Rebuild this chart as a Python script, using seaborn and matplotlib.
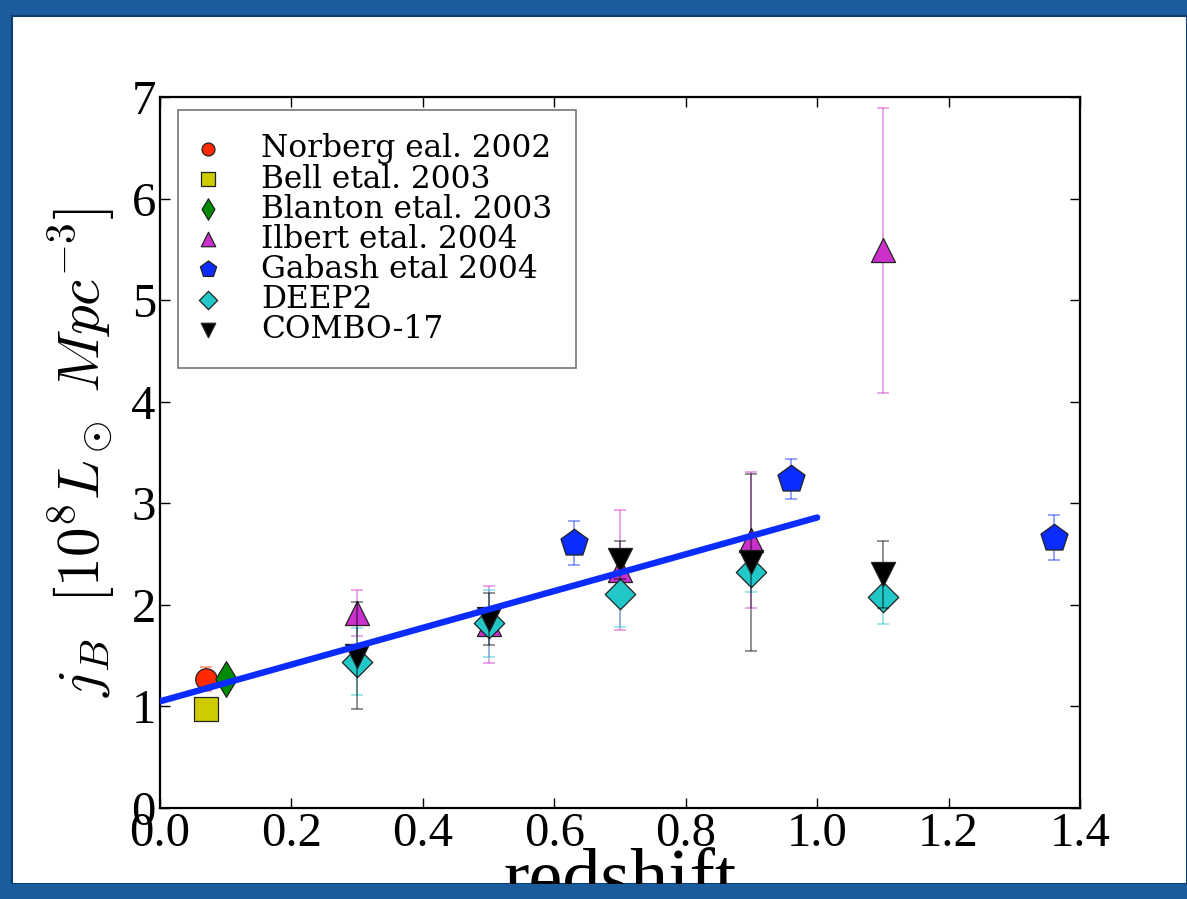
import numpy as np
import pandas as pd
import matplotlib
matplotlib.use("Agg")
import matplotlib.pyplot as plt
import seaborn as sns
from matplotlib.patches import Rectangle

# ---------------- data ----------------
norberg_z = [0.07]
norberg_j = [1.27]
norberg_err = [0.12]

bell_z = [0.07]
bell_j = [0.97]
bell_err = [0.0]

blanton_z = [0.10]
blanton_j = [1.27]
blanton_err = [0.0]

ilbert_z = [0.3, 0.5, 0.7, 0.9, 1.1]
ilbert_j = [1.92, 1.81, 2.34, 2.64, 5.49]
ilbert_err = [0.23, 0.38, 0.59, 0.67, 1.40]

gabash_z = [0.63, 0.96, 1.36]
gabash_j = [2.61, 3.24, 2.66]
gabash_err = [0.22, 0.20, 0.22]

deep2_z = [0.3, 0.5, 0.7, 0.9, 1.1]
deep2_j = [1.44, 1.82, 2.11, 2.32, 2.08]
deep2_err = [0.33, 0.33, 0.33, 0.19, 0.27]

combo_z = [0.3, 0.5, 0.7, 0.9, 1.1]
combo_j = [1.50, 1.86, 2.44, 2.42, 2.30]
combo_err = [0.53, 0.26, 0.19, 0.87, 0.33]

fit_z = [0.0, 1.0]
fit_j = [1.05, 2.86]

x_ticks = [0.0, 0.2, 0.4, 0.6, 0.8, 1.0, 1.2, 1.4]
y_ticks = [0, 1, 2, 3, 4, 5, 6, 7]

series = [
    ("Norberg eal. 2002", norberg_z, norberg_j, norberg_err, "#ff2a00", "o", 240),
    ("Bell etal. 2003", bell_z, bell_j, bell_err, "#cccc00", "s", 300),
    ("Blanton etal. 2003", blanton_z, blanton_j, blanton_err, "#008a00", "d", 330),
    ("Ilbert etal. 2004", ilbert_z, ilbert_j, ilbert_err, "#cc30cc", "^", 300),
    ("Gabash etal 2004", gabash_z, gabash_j, gabash_err, "#0a2cff", "p", 420),
    ("DEEP2", deep2_z, deep2_j, deep2_err, "#22c8c8", "D", 240),
    ("COMBO-17", combo_z, combo_j, combo_err, "#000000", "v", 300),
]

# ---------------- style ----------------
sns.set_theme(style="ticks")
plt.rcParams["font.family"] = ["Liberation Serif", "DejaVu Serif"]
plt.rcParams["mathtext.fontset"] = "cm"
plt.rcParams["text.color"] = "black"
plt.rcParams["axes.labelcolor"] = "black"

fig = plt.figure(figsize=(11.87, 8.99), dpi=100)
fig.patch.set_facecolor("#1b5c9c")
# white slide area
fig.patches.append(Rectangle((12 / 1187, 15 / 899), 1 - 12 / 1187, 1 - 31 / 899,
                             transform=fig.transFigure, facecolor="white",
                             edgecolor="#0d3c6e", linewidth=1.5, zorder=-5))
# blue band at the bottom drawn over the x label
fig.patches.append(Rectangle((0, 0), 1, 15 / 899, transform=fig.transFigure,
                             facecolor="#1b5c9c", edgecolor="none", zorder=50))

ax = fig.add_axes([160 / 1187, 91 / 899, 920 / 1187, 711 / 899])
ax.set_facecolor("white")

zo = 2
for label, zs, js, errs, color, marker, size in series:
    df = pd.DataFrame({"z": zs, "j": js, "err": errs})
    ax.errorbar(df["z"], df["j"], yerr=df["err"], fmt="none", ecolor=color,
                alpha=0.5, elinewidth=1.2, capsize=4.5, capthick=1.2, zorder=zo)
    sns.scatterplot(data=df, x="z", y="j", ax=ax, color=color, marker=marker,
                    s=size, edgecolor="#222222", linewidth=0.9, label=label,
                    zorder=zo + 1)
    zo += 2

fit_df = pd.DataFrame({"z": fit_z, "j": fit_j})
sns.lineplot(data=fit_df, x="z", y="j", ax=ax, color="#0a2cff", linewidth=4.6,
             legend=False, zorder=40)

ax.set_xlim(0, 1.4)
ax.set_ylim(0, 7)
ax.set_xticks(x_ticks)
ax.set_xticklabels([f"{v:.1f}" for v in x_ticks])
ax.set_yticks(y_ticks)
ax.set_yticklabels([str(v) for v in y_ticks])
ax.tick_params(direction="in", length=7, width=1, top=True, right=True,
               labelsize=35, pad=3, colors="black")
for sp in ax.spines.values():
    sp.set_linewidth(1.6)
    sp.set_color("black")
    sp.set_visible(True)

ax.set_xlabel("redshift", fontsize=55, labelpad=-6)
ax.set_ylabel(r"$j_B\ \ [10^8 L_\odot\ Mpc^{-3}]$", fontsize=42.5)
ax.yaxis.set_label_coords(-0.047, 0.5)

leg = ax.legend(loc="upper left", bbox_to_anchor=(18 / 920, 1 - 13 / 711),
                borderaxespad=0, frameon=True, fancybox=False, markerscale=0.6,
                handlelength=0.4, handletextpad=1.5, borderpad=0.75,
                labelspacing=-0.03, prop={"family": "DejaVu Serif", "size": 22.5})
leg.get_frame().set_edgecolor("#555555")
leg.get_frame().set_linewidth(1.2)
for t in leg.get_texts():
    t.set_color("black")

fig.savefig("out.png", dpi=100, facecolor=fig.get_facecolor())
